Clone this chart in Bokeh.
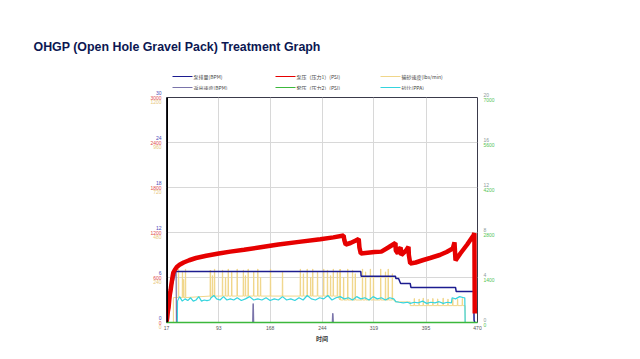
from bokeh.plotting import figure
from bokeh.layouts import column, row
from bokeh.models import Range1d, FixedTicker, Span
from bokeh.core.properties import value
from bokeh.embed import file_html
from bokeh.resources import INLINE

# ---------------- data ----------------
x_ticks = [17, 93, 168, 244, 319, 395, 470]
left_ticks = [0, 6, 12, 18, 24, 30]              # rate (BPM) scale
rate_labels = ["0", "6", "12", "18", "24", "30"]
psi_labels = ["0", "600", "1200", "1800", "2400", "3000"]
sand_labels = ["0", "240", "480", "720", "960", "1200"]
ppa_labels = ["0", "4", "8", "12", "16", "20"]
casing_labels = ["0", "1400", "2800", "4200", "5600", "7000"]

# 泵排量 (BPM)
pump_rate = [(17, 0), (17.5, 1.5), (18.5, 1.5), (19, 2.5), (20, 3), (21, 3.5), (22, 4.5),
             (23.5, 5), (25, 5.5), (26, 6), (27.5, 6.3), (29, 6.6), (30, 6.8), (300, 6.8),
             (300.5, 6.17), (350.5, 6.17), (351, 5.87), (355, 5.87), (358, 5.2), (372, 5.2),
             (373, 4.67), (438, 4.67), (439, 4.13), (464.5, 4.13), (465, 0.3), (466, 0)]

# 返出速度 (BPM)
return_rate = [(17, 0), (18, 1), (19.5, 2), (21, 3), (22.5, 3.8), (24, 4.5), (25.5, 5),
               (27, 5.5), (28.5, 6), (30, 6.5), (31, 6.8), (31.5, 0), (142.5, 0), (143, 2.5),
               (143.5, 2.5), (144, 0), (258.5, 0), (259, 1.2), (259.5, 1.2), (260, 0), (470, 0)]

# 泵压 (压力1) (PSI)
pump_psi = [(17, 0), (18, 60), (19, 150), (20, 200), (21, 300), (22, 380), (23, 430), (24, 500),
            (25, 560), (26, 620), (27, 667), (29, 700), (32, 740), (36, 770), (42, 800),
            (50, 830), (60, 860), (75, 890), (93, 920), (110, 945), (130, 970), (154, 1004),
            (180, 1040), (210, 1075), (241, 1110), (260, 1135), (275, 1160), (276, 1100),
            (278, 1040), (285, 1060), (292, 1090), (297, 1115), (298, 1000), (300, 920),
            (310, 930), (320, 940), (330, 945), (340, 1000), (350.5, 1060), (351, 960),
            (354, 920), (356, 980), (358, 1000), (359, 900), (366, 960), (369.5, 1010),
            (370, 900), (372, 787), (380, 800), (390, 830), (401, 860), (415, 900),
            (425, 940), (434, 987), (436.5, 1070), (437, 980), (438, 827), (445, 920),
            (455, 1040), (464, 1160), (465.5, 1190), (466, 120)]

# 套压 (压力2) (PSI)
casing_psi = [(17, 0), (470, 0)]

# 砂比 (PPA)
sand_ratio = [(17, 0), (32.8, 0), (33, 1.9), (36, 2.3), (40, 1.9), (44, 2.1), (48, 1.95),
              (52, 2.2), (56, 1.9), (60, 2.0), (64, 2.3), (68, 1.9), (72, 2.0), (76, 1.95),
              (80, 2.0), (82, 2.2), (86, 2.4), (90, 2.1), (95, 2.0), (100, 2.3), (105, 2.0),
              (110, 2.1), (115, 2.0), (120, 2.2), (126, 1.95), (132, 2.1), (138, 2.3),
              (144, 2.0), (150, 2.1), (156, 2.0), (162, 2.2), (168, 1.95), (174, 2.1),
              (180, 2.0), (186, 2.3), (192, 2.0), (198, 2.1), (204, 1.95), (210, 2.2),
              (216, 2.0), (222, 2.4), (228, 2.1), (234, 2.0), (240, 2.2), (246, 2.1),
              (252, 2.4), (258, 2.0), (264, 2.2), (270, 2.3), (276, 2.1), (282, 2.2),
              (288, 2.0), (294, 2.3), (300, 2.1), (306, 2.2), (312, 2.0), (318, 2.3),
              (324, 2.1), (330, 2.2), (336, 2.0), (342, 2.2), (348, 2.1), (351, 1.85),
              (356, 1.8), (362, 1.75), (368, 1.8), (372, 1.7), (378, 1.8), (384, 1.75),
              (390, 1.9), (396, 1.7), (402, 1.8), (408, 1.75), (414, 1.85), (420, 1.7),
              (426, 1.8), (432, 1.75), (433, 2.2), (438, 2.1), (444, 2.3), (450, 2.2),
              (451.5, 2.2), (452, 0), (470, 0)]

# 输砂速度 (lbs/min): base levels and spikes
sand_rate_steps = [(17, 0), (27, 133), (81, 141), (270, 120), (350, 110), (372, 90), (452, 0)]
sand_rate_spikes = [(34.5, 285), (40.3, 270), (42, 230), (44.7, 285), (81, 280), (84, 250),
                    (87, 285), (98.6, 280), (103, 240), (107, 285), (112, 270), (120, 285),
                    (129, 280), (132, 250), (136, 285), (144, 270), (150, 285), (154, 240),
                    (168.5, 285), (186, 270), (212, 285), (216.5, 260), (222, 285), (227, 240),
                    (230, 285), (237, 270), (246, 285), (251.5, 280), (256, 250), (260, 285),
                    (266, 270), (270, 285), (275, 240), (281, 285), (288, 280), (292, 260),
                    (302.5, 285), (307, 270), (314, 285), (318.5, 250), (329, 285), (336, 270),
                    (340, 285), (346, 260), (378, 128), (385, 125), (391, 130), (398, 124),
                    (405, 128), (412, 126), (420, 130), (427, 125), (434, 128), (441, 124),
                    (448, 128)]

legend_labels = ["泵排量(BPM)", "泵压（压力1）(PSI)", "输砂速度(lbs/min)",
                 "返出速度(BPM)", "套压（压力2）(PSI)", "砂比(PPA)"]
title_text = "OHGP (Open Hole Gravel Pack) Treatment Graph"

# ---------------- colours ----------------
C_BLUE = "#1c1c90"
C_PURPLE = "#7a74aa"
C_RED = "#e60000"
C_YEL = "#f0d68a"
C_GREEN = "#3cb83c"
C_CYAN = "#35d4de"
leg_colors = [C_BLUE, C_RED, C_YEL, C_PURPLE, C_GREEN, C_CYAN]

# ---------------- layout constants ----------------
TOTAL_W = 636
HEAD_H = 90
ROW_H = 267
TOP = 7
BOTTOM = 35
FRAME_H = ROW_H - TOP - BOTTOM
LEFT_W = 162
MAIN_BL, MAIN_BR = 4, 5
FRAME_W = 311
MAIN_W = MAIN_BL + FRAME_W + MAIN_BR
RIGHT_W = TOTAL_W - LEFT_W - MAIN_W
Y_MAX = left_ticks[-1]
PX_PER_UNIT = FRAME_H / Y_MAX
Y_LO = -BOTTOM / PX_PER_UNIT
Y_HI = Y_MAX + TOP / PX_PER_UNIT


def base_at(t):
    v = sand_rate_steps[0][1]
    for st, sv in sand_rate_steps:
        if t >= st:
            v = sv
    return v


def build_sand_rate():
    pts = []
    for i, (st, sv) in enumerate(sand_rate_steps):
        end = sand_rate_steps[i + 1][0] if i + 1 < len(sand_rate_steps) else x_ticks[-1]
        pts.append((st, 1, sv))
        pts.append((end, 0, sv))
    for t, h in sand_rate_spikes:
        b = base_at(t)
        pts += [(t - 0.4, 2, b), (t - 0.2, 2, h), (t + 0.2, 2, h), (t + 0.4, 2, b)]
    pts.sort(key=lambda a: (a[0], a[1]))
    return [p[0] for p in pts], [p[2] for p in pts]


def xs(pairs):
    return [a for a, b in pairs]


def ys(pairs):
    return [b for a, b in pairs]


def blank(fig):
    fig.axis.visible = False
    fig.grid.visible = False
    fig.outline_line_color = None
    fig.background_fill_color = None
    fig.border_fill_color = "white"
    fig.frame_align = False


# ---------------- header (title + legend) ----------------
head = figure(width=TOTAL_W, height=HEAD_H, output_backend="svg", toolbar_location=None,
              x_range=Range1d(0, TOTAL_W), y_range=Range1d(HEAD_H, 0),
              min_border=0)
blank(head)
head.text(x=[33], y=[46], text=[title_text], text_font=value("Liberation Sans"),
          text_font_style="bold", text_font_size="12.4px", text_color="#0c1752",
          text_baseline="middle", text_align="left")
col_x = [172, 275, 380]
row_y = [76, 87]
lx0, lx1, ltx, lty = [], [], [], []
for i, lab in enumerate(legend_labels):
    cx = col_x[i % 3]
    ry = row_y[i // 3]
    lx0.append(cx); lx1.append(cx + 20); ltx.append(cx + 21); lty.append(ry)
head.segment(x0=lx0, y0=lty, x1=lx1, y1=lty, color=leg_colors, line_width=1)
head.text(x=ltx, y=lty, text=legend_labels, text_font=value("Noto Sans CJK SC"),
          text_font_size="5px", text_color="#444444", text_baseline="middle",
          text_align="left")

# ---------------- main plot ----------------
p = figure(width=MAIN_W, height=ROW_H, output_backend="svg", toolbar_location=None,
           x_range=Range1d(x_ticks[0], x_ticks[-1]), y_range=Range1d(0, Y_MAX),
           min_border_left=MAIN_BL, min_border_right=MAIN_BR,
           min_border_top=TOP, min_border_bottom=BOTTOM)
p.frame_align = False
p.extra_y_ranges = {"psi": Range1d(0, 3000), "sand": Range1d(0, 1200),
                    "casing": Range1d(0, 7000), "ppa": Range1d(0, 20)}
p.background_fill_color = "white"
p.border_fill_color = "white"
p.outline_line_color = "#3a3a4a"
p.outline_line_width = 1

p.yaxis.visible = False
p.xaxis.ticker = FixedTicker(ticks=x_ticks)
p.xaxis.major_tick_line_color = None
p.xaxis.minor_tick_line_color = None
p.xaxis.major_tick_out = 0
p.xaxis.major_tick_in = 0
p.xaxis.minor_tick_out = 0
p.xaxis.major_label_text_font_size = "5px"
p.xaxis.major_label_text_color = "#555555"
p.xaxis.major_label_standoff = 3
p.xaxis.axis_line_color = C_GREEN
p.xaxis.axis_line_width = 1.5
p.xaxis.axis_label = "时间"
p.xaxis.axis_label_text_font = "Noto Sans CJK SC"
p.xaxis.axis_label_text_font_style = "bold"
p.xaxis.axis_label_text_font_size = "6px"
p.xaxis.axis_label_text_color = "#333333"
p.xaxis.axis_label_standoff = 1

p.xgrid.ticker = FixedTicker(ticks=x_ticks)
p.ygrid.ticker = FixedTicker(ticks=left_ticks)
p.xgrid.grid_line_color = "#d8d8d8"
p.ygrid.grid_line_color = "#d8d8d8"

st, sv = build_sand_rate()
p.line(st, sv, y_range_name="sand", color=C_YEL, line_width=1)
p.line(xs(sand_ratio), ys(sand_ratio), y_range_name="ppa", color=C_CYAN, line_width=1.2)
p.line(xs(casing_psi), ys(casing_psi), y_range_name="casing", color=C_GREEN, line_width=1.2)
p.line(xs(return_rate), ys(return_rate), color=C_PURPLE, line_width=1.2)
p.line(xs(pump_rate), ys(pump_rate), color=C_BLUE, line_width=1.5)
p.line(xs(pump_psi), ys(pump_psi), y_range_name="psi", color=C_RED, line_width=4.5)
p.add_layout(Span(location=x_ticks[0], dimension="height", line_color="black", line_width=3))

# ---------------- left tick labels ----------------
left = figure(width=LEFT_W, height=ROW_H, output_backend="svg", toolbar_location=None,
              x_range=Range1d(0, LEFT_W), y_range=Range1d(Y_LO, Y_HI), min_border=0)
blank(left)
d = 4.5 / PX_PER_UNIT
lx = LEFT_W - 1
left.text(x=[lx] * 6, y=[v + d for v in left_ticks], text=rate_labels,
          text_font_size="5px", text_color="#4a4ab8", text_align="right", text_baseline="middle")
left.text(x=[lx] * 6, y=left_ticks, text=psi_labels,
          text_font_size="5px", text_color="#e04a4a", text_align="right", text_baseline="middle")
left.text(x=[lx] * 6, y=[v - d for v in left_ticks], text=sand_labels,
          text_font_size="5px", text_color="#e8c880", text_align="right", text_baseline="middle")

# ---------------- right tick labels ----------------
right = figure(width=RIGHT_W, height=ROW_H, output_backend="svg", toolbar_location=None,
               x_range=Range1d(0, RIGHT_W), y_range=Range1d(Y_LO, Y_HI), min_border=0)
blank(right)
d2 = 2.5 / PX_PER_UNIT
right.text(x=[1] * 6, y=[v + d2 for v in left_ticks], text=ppa_labels,
           text_font_size="5px", text_color="#8a9a9a", text_align="left", text_baseline="middle")
right.text(x=[1] * 6, y=[v - d2 for v in left_ticks], text=casing_labels,
           text_font_size="5px", text_color="#55c455", text_align="left", text_baseline="middle")

layout = column(head, row(left, p, right))
open("out.html", "w").write(file_html(layout, INLINE))
